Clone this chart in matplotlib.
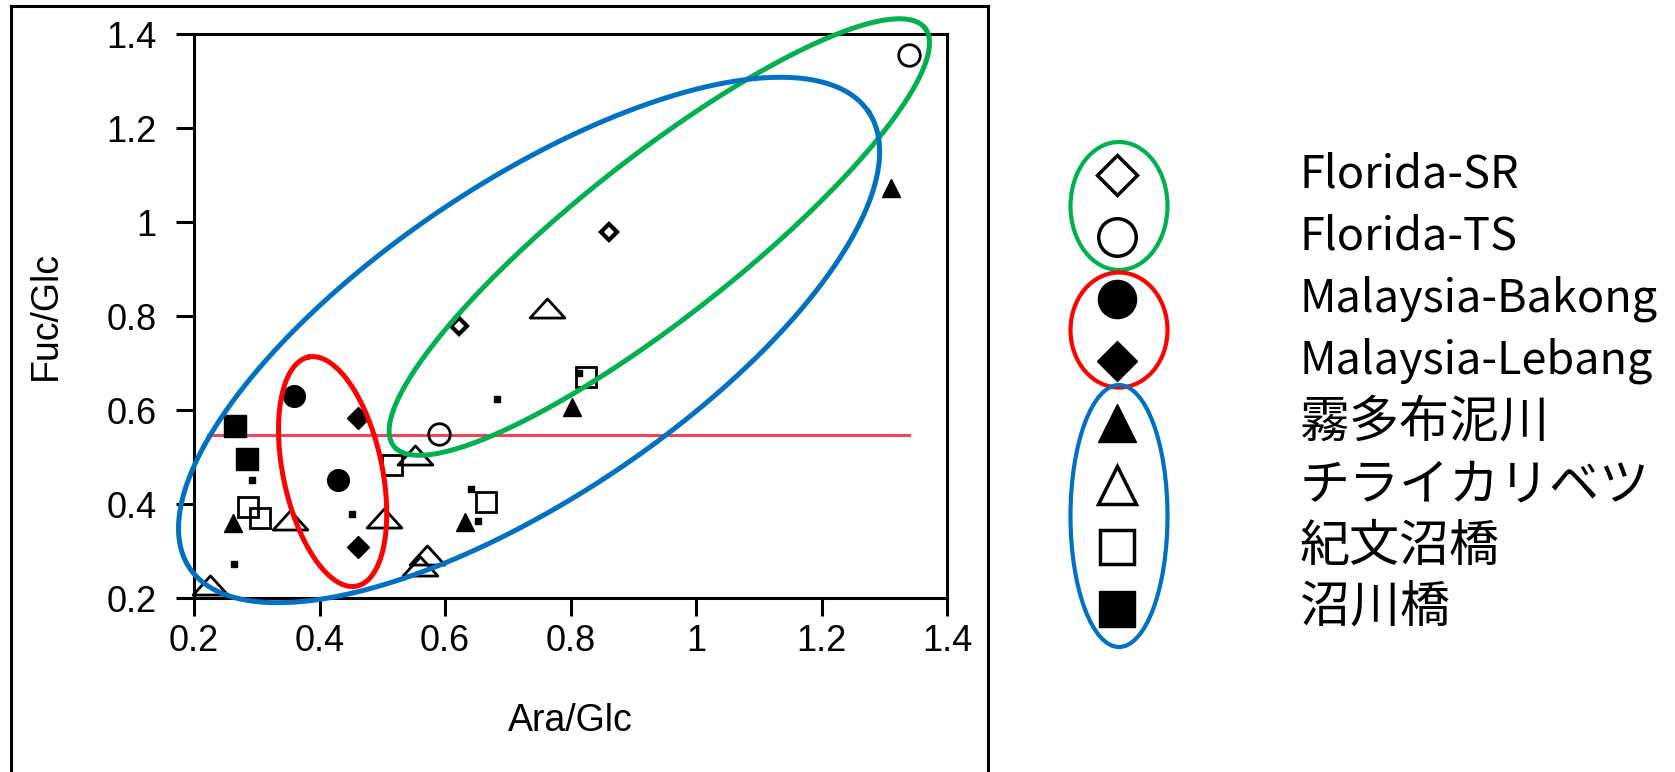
import numpy as np
import matplotlib
matplotlib.use('Agg')
import matplotlib.pyplot as plt
from matplotlib.path import Path
from matplotlib.patches import Rectangle, Ellipse

# values: Ara/Glc (x) against Fuc/Glc (y)
sr_x = [0.623, 0.862]
sr_y = [0.779, 0.979]
ts_x = [0.590, 1.339]
ts_y = [0.550, 1.355]
bakong_x = [0.360, 0.430]
bakong_y = [0.630, 0.451]
lebang_x = [0.462, 0.462]
lebang_y = [0.582, 0.308]
kiritappu_x = [0.262, 0.632, 0.802, 1.311]
kiritappu_y = [0.359, 0.362, 0.607, 1.072]
chirai_x = [0.225, 0.353, 0.502, 0.552, 0.571, 0.560, 0.762]
chirai_y = [0.228, 0.366, 0.370, 0.505, 0.292, 0.268, 0.816]
kibun_x = [0.286, 0.305, 0.515, 0.665, 0.825]
kibun_y = [0.393, 0.371, 0.483, 0.405, 0.671]
numakawa_x = [0.265, 0.284]
numakawa_y = [0.565, 0.496]
other_x = [0.292, 0.452, 0.263, 0.683, 0.813, 0.642, 0.652]
other_y = [0.451, 0.378, 0.272, 0.623, 0.678, 0.431, 0.364]

ref_y = 0.547
ref_x = [0.223, 1.340]

ticks = [0.2, 0.4, 0.6, 0.8, 1.0, 1.2, 1.4]
tick_labels = ['0.2', '0.4', '0.6', '0.8', '1', '1.2', '1.4']

names = ['Florida-SR', 'Florida-TS', 'Malaysia-Bakong', 'Malaysia-Lebang',
         '霧多布泥川', 'チライカリベツ', '紀文沼橋', '沼川橋']

GREEN = '#00B050'
RED = '#FF0000'
BLUE = '#0070C0'

# flat open triangle used in the plot
flat_tri = Path([(-1, -0.55), (1, -0.55), (0, 0.55), (-1, -0.55)],
                [Path.MOVETO, Path.LINETO, Path.LINETO, Path.CLOSEPOLY])

W, H = 1675, 772
fig = plt.figure(figsize=(W / 100, H / 100), dpi=100)
ax = fig.add_axes([194 / W, 1 - 598 / H, (947 - 194) / W, (598 - 34) / H])
ax.set_xlim(0.2, 1.4)
ax.set_ylim(0.2, 1.4)

k = dict(linestyle='none', color='black', zorder=3, clip_on=False)
ax.plot(other_x, other_y, marker='s', ms=4.3, **k)
ax.plot(sr_x, sr_y, marker='D', ms=8, mfc='white', mec='black', mew=3, **k)
ax.plot(ts_x, ts_y, marker='o', ms=15.5, mfc='none', mec='black', mew=2, **k)
ax.plot(bakong_x, bakong_y, marker='o', ms=15.6, **k)
ax.plot(lebang_x, lebang_y, marker='D', ms=11.5, **k)
ax.plot(kiritappu_x, kiritappu_y, marker='^', ms=13, **k)
ax.plot(chirai_x, chirai_y, marker=flat_tri, ms=25, mfc='none', mec='black', mew=2, **k)
ax.plot(kibun_x, kibun_y, marker='s', ms=15, mfc='none', mec='black', mew=2, **k)
ax.plot(numakawa_x, numakawa_y, marker='s', ms=15.8, **k)

ax.plot(ref_x, [ref_y, ref_y], color='#F0445A', lw=2.2, zorder=2)


def draw_ellipse(cx, cy, a_px, b_px, ang, color):
    # semi-axes in screen pixels, turned into data units through the axes size
    bb = ax.get_window_extent()
    sx = bb.width / 1.2
    sy = bb.height / 1.2
    t = np.linspace(0, 2 * np.pi, 400)
    th = np.radians(ang)
    dx = a_px * np.cos(t) * np.cos(th) - b_px * np.sin(t) * np.sin(th)
    dy = a_px * np.cos(t) * np.sin(th) + b_px * np.sin(t) * np.cos(th)
    ax.plot(cx + dx / sx, cy + dy / sy, color=color, lw=3.6, zorder=4, clip_on=False)


draw_ellipse(0.9415, 0.968, 338, 80, 38.2, GREEN)
draw_ellipse(0.734, 0.749, 409, 157, 33.9, BLUE)
draw_ellipse(0.4209, 0.469, 117, 49.5, 101.9, RED)

for s in ax.spines.values():
    s.set_linewidth(2.2)
ax.set_xticks(ticks)
ax.set_xticklabels(tick_labels)
ax.set_yticks(ticks)
ax.set_yticklabels(tick_labels)
ax.tick_params(direction='out', length=13, width=2.2, labelsize=26,
               top=False, right=False)
ax.tick_params(axis='x', pad=6)
ax.tick_params(axis='y', pad=14)
for lab in ax.get_xticklabels() + ax.get_yticklabels():
    lab.set_family('Liberation Sans')

ax.set_xlabel('Ara/Glc', fontsize=27, family='Liberation Sans')
ax.set_ylabel('Fuc/Glc', fontsize=27, family='Liberation Sans')
ax.xaxis.set_label_coords(0.5, -0.187)
ax.yaxis.set_label_coords(-0.173, 0.5)

# outer frame, bottom edge falls outside the picture
fig.add_artist(Rectangle((11 / W, -0.05), (988 - 11) / W, 1.05 - 6 / H,
                         transform=fig.transFigure, fill=False,
                         edgecolor='black', lw=2.2, clip_on=False))

# hand-made legend in pixel units
lax = fig.add_axes([0, 0, 1, 1])
lax.set_xlim(0, W)
lax.set_ylim(H, 0)
lax.axis('off')

mx, tx = 1117, 1300
row0, step = 175, 62
rows = [row0 + i * step for i in range(len(names))]
styles = [
    dict(marker='D', ms=20.5, mfc='white', mec='black', mew=2.5),
    dict(marker='o', ms=27, mfc='white', mec='black', mew=2.5),
    dict(marker='o', ms=27.5, color='black'),
    dict(marker='D', ms=20.5, color='black'),
    dict(marker='^', ms=28, color='black'),
    dict(marker='^', ms=28, mfc='white', mec='black', mew=2.5),
    dict(marker='s', ms=25, mfc='white', mec='black', mew=2.5),
    dict(marker='s', ms=26, color='black'),
]
for y, name, st in zip(rows, names, styles):
    lax.plot([mx], [y], linestyle='none', **st)
    size = 36 if not name.isascii() else 32.5
    lax.text(tx, y, name, fontsize=size, va='center', ha='left',
             family=['Noto Sans CJK JP', 'DejaVu Sans'])

groups = [(0, 2, GREEN, 128), (2, 4, RED, 115), (4, 8, BLUE, 262)]
for i0, i1, col, hh in groups:
    cy = np.mean(rows[i0:i1])
    lax.add_patch(Ellipse((mx + 2, cy), 97, hh, fill=False, edgecolor=col, lw=3))

fig.savefig('out.png', dpi=100)
